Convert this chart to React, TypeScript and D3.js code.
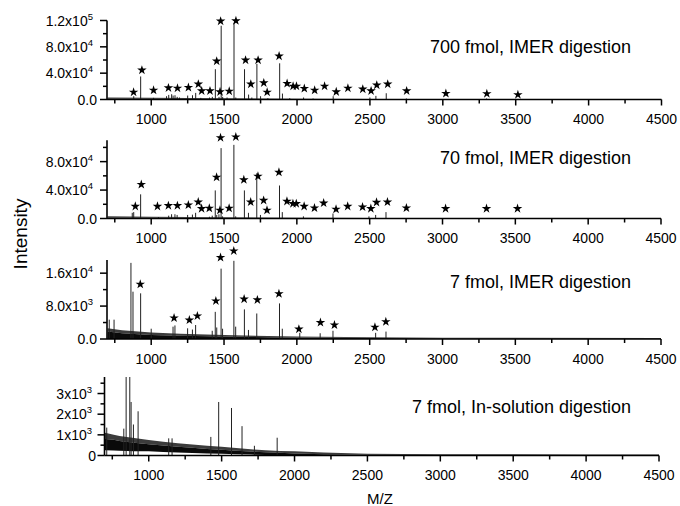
import React from "react";
import * as d3 from "d3";

// ---------- data ----------
const MZ_DOMAIN: [number, number] = [700, 4500];
const MZ_MAJOR = [1000, 1500, 2000, 2500, 3000, 3500, 4000, 4500];
const MZ_MINOR = [750, 1250, 1750, 2250, 2750, 3250, 3750, 4250];

const TITLES = [
  "700 fmol, IMER digestion",
  "70 fmol, IMER digestion",
  "7 fmol, IMER digestion",
  "7 fmol, In-solution digestion",
];

const Y_MAX = [120000, 110000, 19200, 3800];
const Y_TICKS_700 = [0, 40000, 80000, 120000];
const Y_LABELS_700 = ["0.0", "4.0x10^4", "8.0x10^4", "1.2x10^5"];
const Y_MINOR_700 = [20000, 60000, 100000];
const Y_TICKS_70 = [0, 40000, 80000];
const Y_LABELS_70 = ["0.0", "4.0x10^4", "8.0x10^4"];
const Y_MINOR_70 = [20000, 60000, 100000];
const Y_TICKS_7 = [0, 8000, 16000];
const Y_LABELS_7 = ["0.0", "8.0x10^3", "1.6x10^4"];
const Y_MINOR_7 = [4000, 12000];
const Y_TICKS_SOL = [0, 1000, 2000, 3000];
const Y_LABELS_SOL = ["0", "1x10^3", "2x10^3", "3x10^3"];
const Y_MINOR_SOL = [500, 1500, 2500, 3500];

// peaks: [m/z, intensity]
const PEAKS_700: [number, number][] = [
  [880, 5000], [927.5, 35000], [1016, 2500], [1105, 5000], [1120, 7000], [1140, 8000],
  [1150, 6000], [1163, 6500], [1178, 4000], [1194, 3000], [1250, 6000], [1283, 6500],
  [1305, 10000], [1340, 2500], [1400, 3000], [1419, 4000], [1439.8, 46000], [1465, 4000],
  [1479.8, 112000], [1490, 4000], [1520, 3000], [1567.7, 116000], [1580, 3000],
  [1639.9, 46000], [1667.8, 7500], [1690, 3000], [1724.8, 54000], [1750, 5000],
  [1800, 2000], [1880.9, 55000], [1900, 9000], [1950, 2000], [2045, 3000], [2110, 1500],
  [2248, 5000], [2500, 3000], [2541, 5500], [2612, 9500], [2750, 1500], [3300, 1500],
];
const PEAKS_70: [number, number][] = [
  [870, 8000], [880, 9000], [927.5, 34000], [1050, 2000], [1120, 4000], [1140, 6000],
  [1163, 6000], [1178, 5000], [1250, 5000], [1283, 5500], [1305, 8000], [1400, 2500],
  [1419, 4000], [1439.8, 39500], [1450, 5000], [1465, 6000], [1479.8, 99000], [1490, 3000],
  [1567.7, 103600], [1580, 3000], [1639.9, 39500], [1667.8, 8000], [1724.8, 63600],
  [1750, 5000], [1880.9, 46400], [1900, 9000], [2045, 3000], [2248, 7000], [2495, 3000],
  [2541, 5000], [2612, 9000],
];
const PEAKS_7: [number, number][] = [
  [712, 4700], [745, 4700], [861, 18500], [875, 11500], [927.5, 11100], [1000, 2500],
  [1150, 3000], [1163, 3300], [1250, 2600], [1283, 2300], [1305, 3400], [1419, 2000],
  [1439.8, 6600], [1450, 2800], [1479.8, 17100], [1490, 2500], [1567.7, 19000], [1580, 3000],
  [1639.9, 7200], [1667.8, 2200], [1724.8, 6200], [1880.9, 8650], [1900, 2500], [2020, 1500],
  [2160, 1400], [2248, 2000], [2541, 1500], [2612, 1800],
];
const PEAKS_SOL: [number, number][] = [
  [712, 1350], [829, 1300], [845, 3800], [870, 3800], [879, 2590], [895, 1500], [927, 2140],
  [1137, 830], [1160, 830], [1426, 900], [1479.8, 2590], [1567.7, 2300], [1639.9, 1420],
  [1724.8, 470], [1880.9, 860],
];

// baseline noise: [m/z, low, dense top, sparse top]
const NOISE_700: [number, number, number, number][] = [
  [700, 0, 1500, 3000], [1000, 0, 1200, 2500], [1500, 0, 900, 1800], [2000, 0, 600, 1100],
  [2500, 0, 400, 700], [4500, 0, 300, 400],
];
const NOISE_70: [number, number, number, number][] = [
  [700, 0, 1500, 3000], [1000, 0, 1200, 2500], [1500, 0, 900, 1800], [2000, 0, 600, 1100],
  [2500, 0, 400, 700], [4500, 0, 300, 400],
];
const NOISE_7: [number, number, number, number][] = [
  [700, 0, 1800, 2600], [800, 0, 1400, 2100], [1000, 0, 1000, 1600], [1200, 0, 800, 1250],
  [1500, 0, 600, 1000], [1800, 0, 430, 700], [2000, 0, 350, 600], [2500, 0, 220, 400],
  [3000, 0, 150, 300], [4500, 0, 120, 250],
];
const NOISE_SOL: [number, number, number, number][] = [
  [700, 250, 800, 1100], [760, 240, 760, 1000], [800, 230, 700, 950], [900, 210, 620, 850],
  [1000, 200, 550, 750], [1100, 170, 480, 660], [1200, 150, 420, 590], [1300, 120, 370, 530],
  [1400, 100, 320, 470], [1500, 80, 280, 420], [1600, 60, 230, 360], [1700, 45, 190, 300],
  [1800, 30, 160, 250], [1900, 20, 130, 220], [2000, 10, 100, 200], [2200, 0, 65, 140],
  [2500, 0, 40, 90], [3000, 0, 25, 60], [3500, 0, 25, 55], [4000, 0, 20, 50], [4500, 0, 20, 50],
];

// starred (identified) peaks: [m/z, star level]
const STARS_700: [number, number][] = [
  [879, 11100], [936, 44600], [1016, 14100], [1118, 17600], [1180, 17200], [1255, 18200],
  [1323, 23300], [1346, 13100], [1403, 13100], [1449, 58300], [1476, 119000], [1472, 11600],
  [1535, 12600], [1581, 119500], [1647, 59800], [1683, 23300], [1733, 59800], [1772, 25200],
  [1795, 11100], [1877, 65900], [1932, 24300], [1973, 20200], [1996, 20200], [2050, 16700],
  [2121, 14100], [2189, 20200], [2269, 11600], [2349, 17200], [2451, 15700], [2508, 13100],
  [2547, 21800], [2622, 23300], [2752, 13100], [3021, 9100], [3302, 8800], [3515, 7300],
];
const STARS_70: [number, number][] = [
  [891, 17100], [932, 47800], [1043, 17100], [1118, 18100], [1180, 18100], [1255, 19000],
  [1323, 23100], [1346, 13900], [1399, 14400], [1449, 58000], [1476, 113700], [1472, 11600],
  [1535, 14400], [1581, 114700], [1636, 54400], [1683, 23100], [1733, 59400], [1772, 25500],
  [1795, 11600], [1877, 65000], [1932, 24100], [1973, 20900], [1996, 20900], [2050, 17100],
  [2121, 14800], [2184, 21700], [2269, 13000], [2349, 17100], [2451, 16200], [2508, 13900],
  [2547, 22700], [2622, 23100], [2752, 14800], [3021, 13900], [3302, 13900], [3515, 13900],
];
const STARS_7: [number, number][] = [
  [925, 13300], [1157, 5100], [1262, 4600], [1317, 5600], [1444, 9250], [1476, 19800],
  [1567, 21400], [1638, 9700], [1729, 9500], [1877, 11000], [2014, 2400], [2162, 4000],
  [2258, 3400], [2536, 2850], [2611, 4200],
];
const STARS_SOL: [number, number][] = [];

// ---------- layout ----------
const W = 680;
const H = 506;
const FONT = "Arial, 'Liberation Sans', Helvetica, sans-serif";

const PANELS = [
  { x0: 107.5, x1: 661.5, bottom: 99.5, top: 20.5, titleY: 53, labelEnd: 93, ticks: Y_TICKS_700, labels: Y_LABELS_700, minor: Y_MINOR_700, peaks: PEAKS_700, noise: NOISE_700, stars: STARS_700 },
  { x0: 107.5, x1: 661, bottom: 218.5, top: 140.3, titleY: 164, labelEnd: 93, ticks: Y_TICKS_70, labels: Y_LABELS_70, minor: Y_MINOR_70, peaks: PEAKS_70, noise: NOISE_70, stars: STARS_70 },
  { x0: 107.5, x1: 661, bottom: 339, top: 260, titleY: 288, labelEnd: 93, ticks: Y_TICKS_7, labels: Y_LABELS_7, minor: Y_MINOR_7, peaks: PEAKS_7, noise: NOISE_7, stars: STARS_7 },
  { x0: 105, x1: 659, bottom: 455.5, top: 377, titleY: 413, labelEnd: 92, ticks: Y_TICKS_SOL, labels: Y_LABELS_SOL, minor: Y_MINOR_SOL, peaks: PEAKS_SOL, noise: NOISE_SOL, stars: STARS_SOL },
];

function TickLabel({ x, y, label }: { x: number; y: number; label: string }) {
  const [base, exp] = label.split("^");
  if (!exp) {
    return (
      <text x={x + 4} y={y} dy="0.36em" textAnchor="end" fontSize={14} fontFamily={FONT}>
        {base}
      </text>
    );
  }
  return (
    <text x={x} y={y} dy="0.36em" textAnchor="end" fontSize={14} fontFamily={FONT}>
      {base}
      <tspan fontSize={9.5} dy="-6">{exp}</tspan>
    </text>
  );
}

type Noise = [number, number, number, number];

function Panel({ idx }: { idx: number }) {
  const p = PANELS[idx];
  const x = d3.scaleLinear().domain(MZ_DOMAIN).range([p.x0, p.x1]);
  const y = d3.scaleLinear().domain([0, Y_MAX[idx]]).range([p.bottom, p.top]).clamp(true);
  const yFree = d3.scaleLinear().domain([0, Y_MAX[idx]]).range([p.bottom, p.top]);
  const dense = d3
    .area<Noise>()
    .x((d) => x(d[0]))
    .y0((d) => y(d[1]))
    .y1((d) => y(d[2]));
  const sparse = d3
    .area<Noise>()
    .x((d) => x(d[0]))
    .y0((d) => y(d[2]))
    .y1((d) => y(d[3]));
  const star = d3.symbol().type(d3.symbolStar).size(28)() as string;
  const axisLeft = p.x0 - 0.5;
  return (
    <g>
      <path d={sparse(p.noise) as string} fill="#3c3c3c" />
      <path d={dense(p.noise) as string} fill="#0a0a0a" />
      {p.peaks.map((d, i) => (
        <line key={i} x1={x(d[0])} x2={x(d[0])} y1={y(0)} y2={y(d[1])} stroke="#222" strokeWidth={1} />
      ))}
      {p.stars.map((d, i) => (
        <path key={i} d={star} transform={`translate(${x(d[0])},${yFree(d[1])})`} fill="#000" />
      ))}
      {/* axes */}
      <line x1={axisLeft} x2={p.x1} y1={p.bottom} y2={p.bottom} stroke="#000" strokeWidth={1.6} />
      <line x1={axisLeft} x2={axisLeft} y1={p.bottom} y2={p.top} stroke="#000" strokeWidth={1.6} />
      {MZ_MAJOR.map((m) => (
        <g key={m}>
          <line x1={x(m)} x2={x(m)} y1={p.bottom} y2={p.bottom + 6} stroke="#000" strokeWidth={1.5} />
          <text x={x(m)} y={p.bottom + 24.5} textAnchor="middle" fontSize={14} fontFamily={FONT}>
            {m}
          </text>
        </g>
      ))}
      {MZ_MINOR.map((m) => (
        <line key={m} x1={x(m)} x2={x(m)} y1={p.bottom} y2={p.bottom + 4} stroke="#000" strokeWidth={1.5} />
      ))}
      {p.ticks.map((v, i) => (
        <g key={v}>
          <line x1={axisLeft} x2={axisLeft - 7} y1={y(v)} y2={y(v)} stroke="#000" strokeWidth={1.5} />
          <TickLabel x={p.labelEnd} y={y(v)} label={p.labels[i]} />
        </g>
      ))}
      {p.minor.map((v) => (
        <line key={v} x1={axisLeft} x2={axisLeft - 4} y1={y(v)} y2={y(v)} stroke="#000" strokeWidth={1.5} />
      ))}
      <text x={631} y={p.titleY} textAnchor="end" fontSize={18} fontFamily={FONT}>
        {TITLES[idx]}
      </text>
    </g>
  );
}

export default function App() {
  return (
    <svg
      width={W}
      height={H}
      viewBox={`0 0 ${W} ${H}`}
      style={{ position: "absolute", left: 0, top: 0, background: "#fff" }}
    >
      <rect width={W} height={H} fill="#fff" />
      {PANELS.map((_, i) => (
        <Panel key={i} idx={i} />
      ))}
      <text
        transform="translate(26.5,234) rotate(-90)"
        textAnchor="middle"
        fontSize={19}
        fontFamily={FONT}
      >
        Intensity
      </text>
      <text x={380} y={504} textAnchor="middle" fontSize={15} fontFamily={FONT}>
        M/Z
      </text>
    </svg>
  );
}
